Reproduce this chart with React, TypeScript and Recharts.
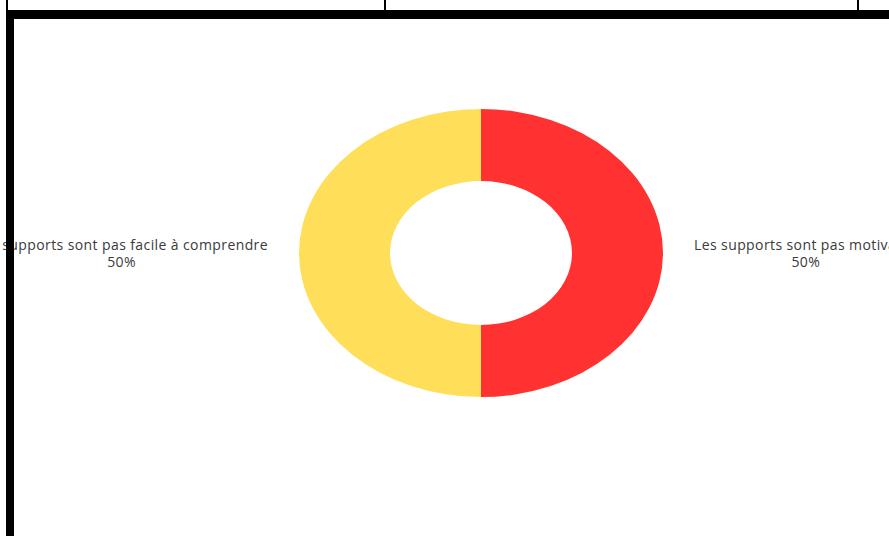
import React from "react";
import { PieChart, Pie, Cell } from "recharts";

const categories = [
  "Les supports sont pas motivants",
  "Les supports sont pas facile à comprendre",
];
const values = [50, 50];
const colors = ["#FF3131", "#FFDE59"];

const data = categories.map((name, i) => ({ name, value: values[i] }));

const W = 889;
const H = 536;
const CX = 481;
const CY = 253;
const OUTER = 182;
const INNER = 91;
const SY = 144 / 182;
const GAP = 31;
const FONT = "'Open Sans', sans-serif";

const renderLabel = (props: any) => {
  const { cx, cy, midAngle, outerRadius, name, percent } = props;
  const right = Math.cos((-midAngle * Math.PI) / 180) >= 0;
  const boxW = 480;
  const x = right ? cx + outerRadius + GAP : cx - outerRadius - GAP - boxW;
  const pct = `${Math.round(percent * 100)}%`;
  return (
    <foreignObject x={x} y={cy - 17} width={boxW} height={38}>
      <div
        style={{
          width: boxW,
          textAlign: right ? "left" : "right",
          fontFamily: FONT,
          fontSize: 14,
          letterSpacing: "0.4px",
          lineHeight: "17px",
          color: "#3a3a3a",
          whiteSpace: "nowrap",
        }}
      >
        <span style={{ display: "inline-block", textAlign: "center" }}>
          {name}
          <br />
          {pct}
        </span>
      </div>
    </foreignObject>
  );
};

export default function App() {
  return (
    <div
      style={{
        position: "absolute",
        left: 0,
        top: 0,
        width: W,
        height: H,
        overflow: "hidden",
        background: "#fff",
      }}
    >
      <style>{`.recharts-pie-sector{transform:scaleY(${SY});transform-origin:${CX}px ${CY}px;}`}</style>
      <div style={{ position: "absolute", left: 0, top: 0 }}>
        <PieChart width={W} height={H} margin={{ top: 0, right: 0, bottom: 0, left: 0 }}>
          <Pie
            data={data}
            dataKey="value"
            nameKey="name"
            cx={CX}
            cy={CY}
            innerRadius={INNER}
            outerRadius={OUTER}
            startAngle={90}
            endAngle={-270}
            stroke="none"
            labelLine={false}
            label={renderLabel}
            isAnimationActive={false}
          >
            {data.map((d, i) => (
              <Cell key={d.name} fill={colors[i]} />
            ))}
          </Pie>
        </PieChart>
      </div>
      {/* frame lines */}
      <div style={{ position: "absolute", left: 6, top: 0, width: 2, height: 11, background: "#000" }} />
      <div style={{ position: "absolute", left: 384, top: 0, width: 2, height: 11, background: "#000" }} />
      <div style={{ position: "absolute", left: 857, top: 0, width: 2, height: 11, background: "#000" }} />
      <div style={{ position: "absolute", left: 6, top: 10, width: 883, height: 9, background: "#000" }} />
      <div style={{ position: "absolute", left: 6, top: 10, width: 8, height: 526, background: "#000" }} />
    </div>
  );
}
